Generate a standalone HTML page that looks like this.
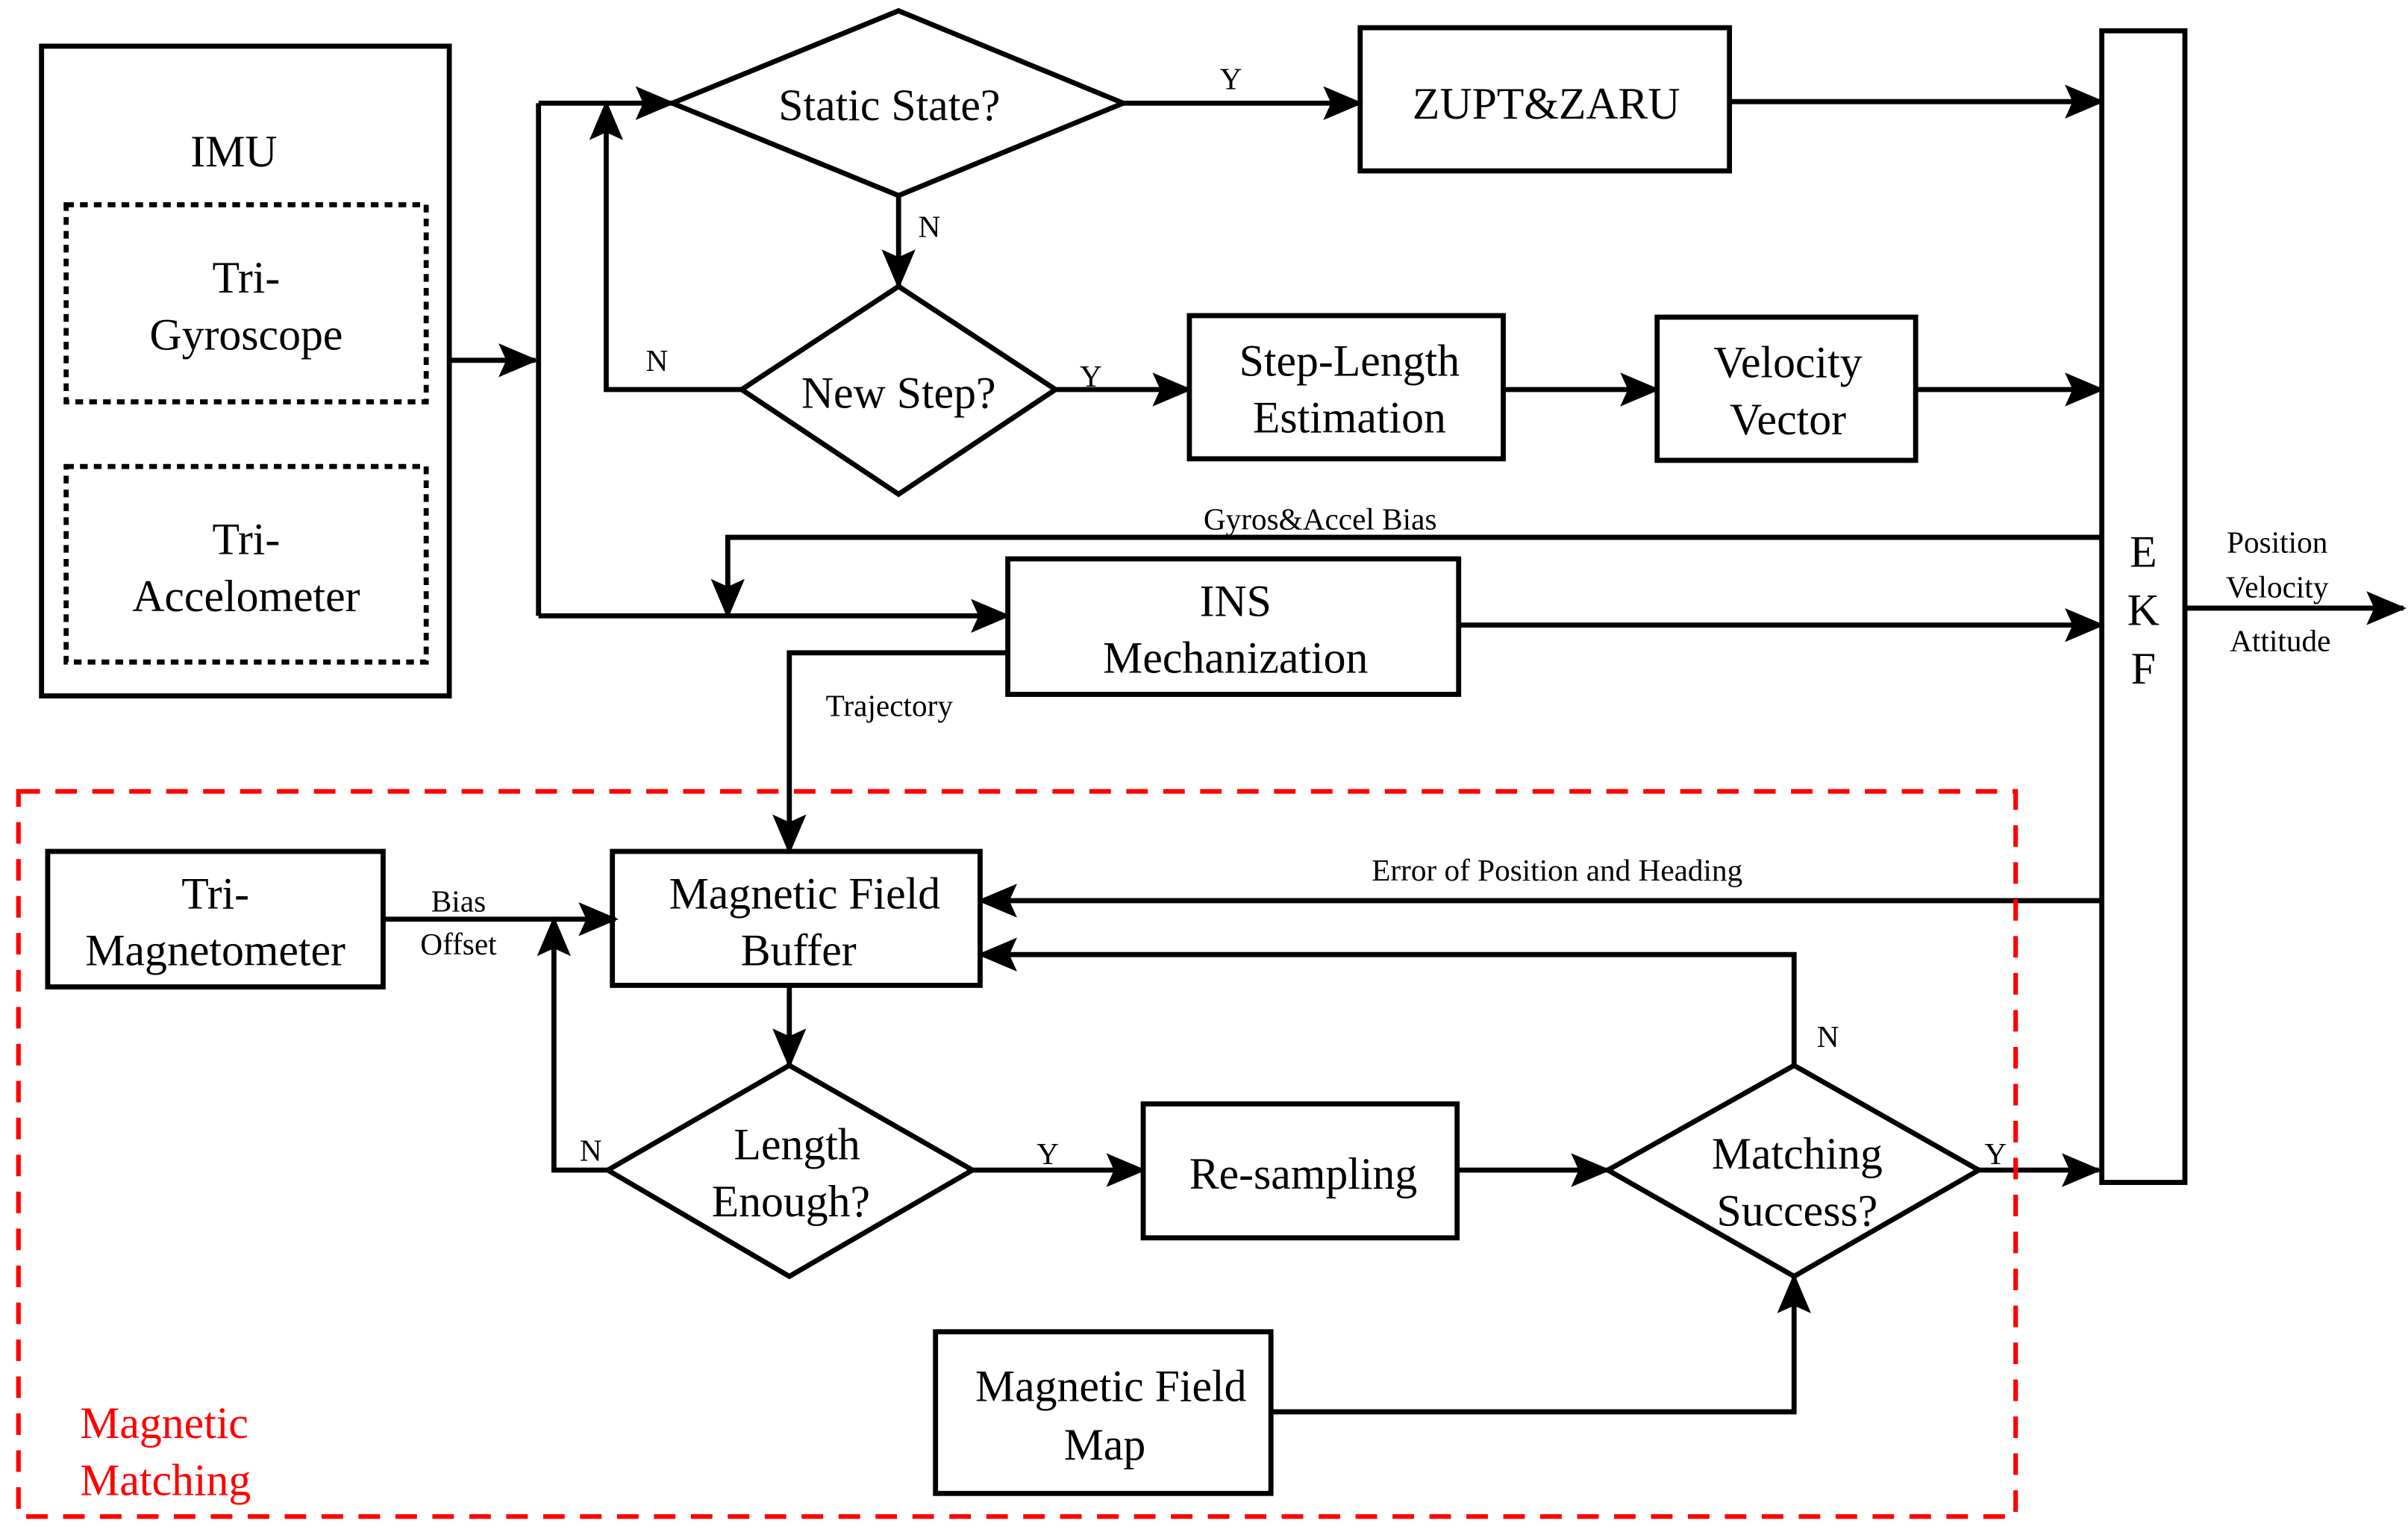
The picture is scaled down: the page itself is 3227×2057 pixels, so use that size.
<!DOCTYPE html>
<html><head><meta charset="utf-8"><style>html,body{margin:0;padding:0;background:#fff}svg{display:block}svg text{font-family:"Liberation Serif","Times New Roman","DejaVu Serif",serif}</style></head>
<body>
<svg width="3227" height="2057" viewBox="0 0 1565 997" preserveAspectRatio="none" xmlns="http://www.w3.org/2000/svg" fill="none">
<defs>
<marker id="a" markerUnits="userSpaceOnUse" markerWidth="26" markerHeight="22" refX="24" refY="11" orient="auto"><path d="M0,0 L26,11 L0,22 L5,11 Z" fill="#000"/></marker>
</defs>
<g stroke="#000" stroke-width="3.3">
<rect x="27" y="30" width="265" height="422"/>
<rect x="43" y="133" width="234" height="128" stroke-dasharray="5,4"/>
<rect x="43" y="303" width="234" height="127" stroke-dasharray="5,4"/>
<rect x="884" y="18" width="240" height="93"/>
<rect x="773" y="205" width="204" height="93"/>
<rect x="1077" y="206" width="168" height="93"/>
<rect x="1366" y="20" width="54" height="748"/>
<rect x="655" y="363" width="293" height="88"/>
<rect x="31" y="553" width="218" height="88"/>
<rect x="398" y="553" width="239" height="87"/>
<rect x="743" y="717" width="204" height="87"/>
<rect x="608" y="865" width="218" height="105"/>
<polygon points="437,67 584,7 730,67 584,127"/>
<polygon points="482,253 584,186 686,253 584,321"/>
<polygon points="395,760 513,692 632,760 513,829"/>
<polygon points="1045,760 1166,692 1286,760 1166,829"/>
<path d="M292,234 H348" marker-end="url(#a)"/>
<path d="M350,67 V400"/>
<path d="M350,67 H437" marker-end="url(#a)"/>
<path d="M350,400 H655" marker-end="url(#a)"/>
<path d="M730,67 H884" marker-end="url(#a)"/>
<path d="M1124,66 H1366" marker-end="url(#a)"/>
<path d="M584,127 V186" marker-end="url(#a)"/>
<path d="M482,253 H394 V67" marker-end="url(#a)"/>
<path d="M686,253 H773" marker-end="url(#a)"/>
<path d="M977,253 H1077" marker-end="url(#a)"/>
<path d="M1245,253 H1366" marker-end="url(#a)"/>
<path d="M1366,349 H473 V400" marker-end="url(#a)"/>
<path d="M948,406 H1366" marker-end="url(#a)"/>
<path d="M1420,395 H1562" marker-end="url(#a)"/>
<path d="M655,424 H513 V553" marker-end="url(#a)"/>
<path d="M249,597 H400" marker-end="url(#a)"/>
<path d="M1366,585 H637" marker-end="url(#a)"/>
<path d="M1166,692 V620 H637" marker-end="url(#a)"/>
<path d="M513,640 V692" marker-end="url(#a)"/>
<path d="M395,760 H360 V597" marker-end="url(#a)"/>
<path d="M632,760 H743" marker-end="url(#a)"/>
<path d="M947,760 H1045" marker-end="url(#a)"/>
<path d="M1286,760 H1364" marker-end="url(#a)"/>
<path d="M826,917 H1166 V829" marker-end="url(#a)"/>
</g>
<rect x="12" y="514" width="1298" height="471" stroke="#f00" stroke-width="3" stroke-dasharray="14,10"/>
<g fill="#000" font-size="29" text-anchor="middle">
<text x="152" y="108">IMU</text>
<text x="160" y="190">Tri-</text>
<text x="160" y="227">Gyroscope</text>
<text x="160" y="360">Tri-</text>
<text x="160" y="397">Accelometer</text>
<text x="578" y="78">Static State?</text>
<text x="1005" y="77">ZUPT&amp;ZARU</text>
<text x="584" y="265">New Step?</text>
<text x="877" y="244">Step-Length</text>
<text x="877" y="281">Estimation</text>
<text x="1162" y="245">Velocity</text>
<text x="1162" y="282">Vector</text>
<text x="1393" y="368">E</text>
<text x="1393" y="406">K</text>
<text x="1393" y="444">F</text>
<text x="803" y="400">INS</text>
<text x="803" y="437">Mechanization</text>
<text x="140" y="590">Tri-</text>
<text x="140" y="627">Magnetometer</text>
<text x="523" y="590">Magnetic Field</text>
<text x="519" y="627">Buffer</text>
<text x="518" y="753">Length</text>
<text x="514" y="790">Enough?</text>
<text x="847" y="772">Re-sampling</text>
<text x="1168" y="759">Matching</text>
<text x="1168" y="796">Success?</text>
<text x="722" y="910">Magnetic Field</text>
<text x="718" y="948">Map</text>
</g>
<g fill="#000" font-size="20" text-anchor="middle">
<text x="800" y="58">Y</text>
<text x="604" y="154">N</text>
<text x="427" y="241">N</text>
<text x="709" y="251">Y</text>
<text x="858" y="344">Gyros&amp;Accel Bias</text>
<text x="1480" y="359">Position</text>
<text x="1480" y="388">Velocity</text>
<text x="1482" y="423">Attitude</text>
<text x="578" y="465">Trajectory</text>
<text x="298" y="592">Bias</text>
<text x="298" y="620">Offset</text>
<text x="1012" y="572">Error of Position and Heading</text>
<text x="1188" y="680">N</text>
<text x="384" y="754">N</text>
<text x="681" y="756">Y</text>
<text x="1297" y="756">Y</text>
</g>
<g fill="#f00" font-size="29">
<text x="52" y="934">Magnetic</text>
<text x="52" y="971">Matching</text>
</g>
</svg>
</body></html>
